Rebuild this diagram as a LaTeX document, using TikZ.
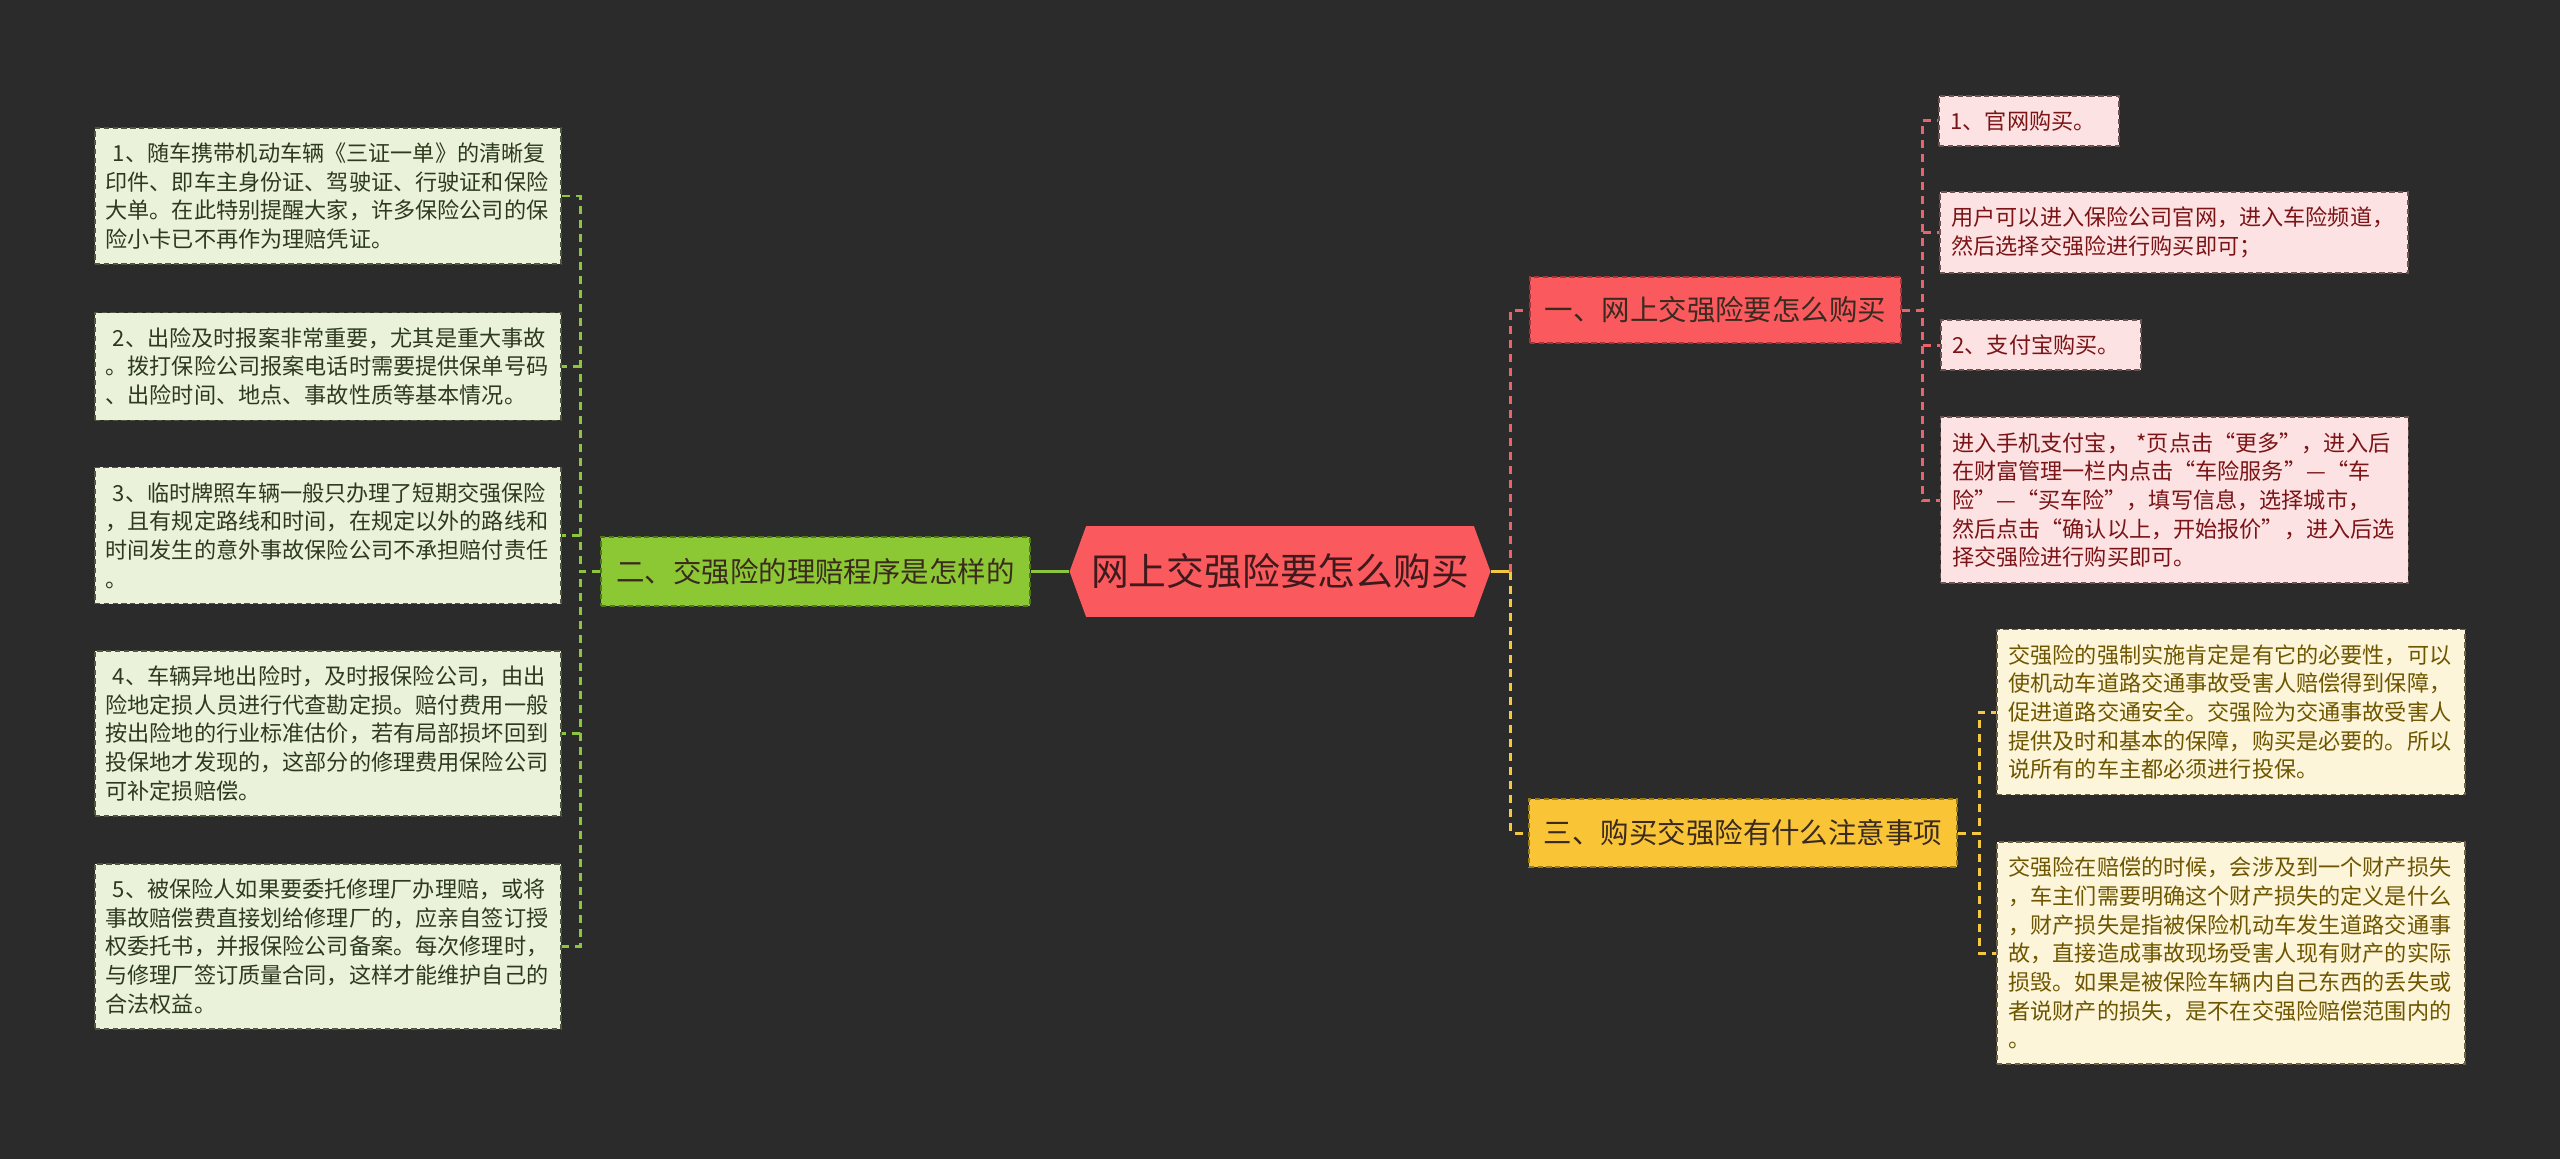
\documentclass[tikz,border=0pt]{standalone}
\usepackage{fontspec}
\setmainfont{Noto Sans CJK SC}
\usepackage{xcolor}
\usepackage{tikz}
\usetikzlibrary{shapes.symbols}

\definecolor{bgdark}{HTML}{2B2B2B}
\definecolor{gleaffill}{HTML}{EAF3DA}
\definecolor{gleafline}{HTML}{4E5840}
\definecolor{gleaftext}{HTML}{2E3A1E}
\definecolor{gtopic}{HTML}{8CC834}
\definecolor{gtopicline}{HTML}{4F7A18}
\definecolor{gwire}{HTML}{8CC63E}
\definecolor{rtopic}{HTML}{FA5A5E}
\definecolor{rtopicline}{HTML}{A8343A}
\definecolor{rwire}{HTML}{E8646A}
\definecolor{pleaffill}{HTML}{FDE2E3}
\definecolor{pleafline}{HTML}{6E5252}
\definecolor{pleaftext}{HTML}{7B1416}
\definecolor{ytopic}{HTML}{F9C537}
\definecolor{ytopicline}{HTML}{9C7A14}
\definecolor{ywire}{HTML}{F5C842}
\definecolor{yleaffill}{HTML}{FDF5D9}
\definecolor{yleafline}{HTML}{6E6244}
\definecolor{yleaftext}{HTML}{6E5600}
\definecolor{topictext}{HTML}{3A2A20}
\definecolor{hubtext}{HTML}{3E1A1C}

\begin{document}
\begin{tikzpicture}[
    x=0.02cm,y=-0.02cm,
    leaf/.style={rectangle,align=left,text width=8.9cm,inner xsep=0.21cm,inner ysep=0.3cm,
        line width=1pt,dash pattern=on 3pt off 2pt,font=\fontsize{12.6pt}{16.3pt}\selectfont},
    gleaf/.style={leaf,fill=gleaffill,draw=gleafline,text=gleaftext},
    pleaf/.style={leaf,inner xsep=0.23cm,fill=pleaffill,draw=pleafline,text=pleaftext},
    yleaf/.style={leaf,inner xsep=0.23cm,fill=yleaffill,draw=yleafline,text=yleaftext},
    headbox/.style={rectangle,align=center,inner xsep=0.3cm,line width=1pt,
        dash pattern=on 3pt off 2pt,text=topictext,font=\fontsize{16.2pt}{20pt}\selectfont},
    hub/.style={signal,signal to=west and east,signal pointer angle=140,fill=rtopic,
        text=hubtext,minimum width=8.4cm,minimum height=1.82cm,inner xsep=0.1cm,
        font=\fontsize{21.5pt}{26pt}\selectfont},
    wire/.style={line width=0.06cm,dash pattern=on 0.16cm off 0.12cm},
    gline/.style={wire,draw=gwire},
    rline/.style={wire,draw=rwire},
    yline/.style={wire,draw=ywire}
]
\fill[bgdark] (0,0) rectangle (2560,1159);

% centre
\node[hub] (C) at (1280,571.5) {网上交强险要怎么购买};

% left branch
\node[headbox,fill=gtopic,draw=gtopicline,minimum width=8.58cm,minimum height=1.38cm] (N2) at (815.5,571.5) {二、交强险的理赔程序是怎样的};
\node[gleaf] (L1) at (328,196) {~1、随车携带机动车辆《三证一单》的清晰复\\印件、即车主身份证、驾驶证、行驶证和保险\\大单。在此特别提醒大家，许多保险公司的保\\险小卡已不再作为理赔凭证。};
\node[gleaf] (L2) at (328,366.5) {~2、出险及时报案非常重要，尤其是重大事故\\。拨打保险公司报案电话时需要提供保单号码\\、出险时间、地点、事故性质等基本情况。};
\node[gleaf] (L3) at (328,535.5) {~3、临时牌照车辆一般只办理了短期交强保险\\，且有规定路线和时间，在规定以外的路线和\\时间发生的意外事故保险公司不承担赔付责任\\。};
\node[gleaf] (L4) at (328,733.5) {~4、车辆异地出险时，及时报保险公司，由出\\险地定损人员进行代查勘定损。赔付费用一般\\按出险地的行业标准估价，若有局部损坏回到\\投保地才发现的，这部分的修理费用保险公司\\可补定损赔偿。};
\node[gleaf] (L5) at (328,946.5) {~5、被保险人如果要委托修理厂办理赔，或将\\事故赔偿费直接划给修理厂的，应亲自签订授\\权委托书，并报保险公司备案。每次修理时，\\与修理厂签订质量合同，这样才能维护自己的\\合法权益。};

% right upper branch
\node[headbox,fill=rtopic,draw=rtopicline,minimum width=7.42cm,minimum height=1.32cm] (N1) at (1715.5,310) {一、网上交强险要怎么购买};
\node[pleaf,text width=3.14cm] (P1) at (2029,121) {1、官网购买。};
\node[pleaf] (P2) at (2174,232.5) {用户可以进入保险公司官网，进入车险频道，\\然后选择交强险进行购买即可；};
\node[pleaf,text width=3.54cm] (P3) at (2041,345) {2、支付宝购买。};
\node[pleaf] (P4) at (2174.5,500) {进入手机支付宝， *页点击“更多”，进入后\\在财富管理一栏内点击“车险服务”—“车\\险”—“买车险”，填写信息，选择城市，\\然后点击“确认以上，开始报价”，进入后选\\择交强险进行购买即可。};

% right lower branch
\node[headbox,fill=ytopic,draw=ytopicline,minimum width=8.56cm,minimum height=1.36cm] (N3) at (1743,833) {三、购买交强险有什么注意事项};
\node[yleaf] (Y1) at (2231,712) {交强险的强制实施肯定是有它的必要性，可以\\使机动车道路交通事故受害人赔偿得到保障，\\促进道路交通安全。交强险为交通事故受害人\\提供及时和基本的保障，购买是必要的。所以\\说所有的车主都必须进行投保。};
\node[yleaf] (Y2) at (2231,953) {交强险在赔偿的时候，会涉及到一个财产损失\\，车主们需要明确这个财产损失的定义是什么\\，财产损失是指被保险机动车发生道路交通事\\故，直接造成事故现场受害人现有财产的实际\\损毁。如果是被保险车辆内自己东西的丢失或\\者说财产的损失，是不在交强险赔偿范围内的\\。};

% connectors
\draw[draw=gwire,line width=0.06cm] (N2.east) -- (C.west);
\foreach \n in {L1,L2,L3,L4,L5}
    \draw[gline] (N2.west) -- ++(-20,0) |- (\n.east);
\draw[draw=ywire,line width=0.06cm] (C.east) -- ++(20,0) coordinate (hubjoint);
\draw[rline] (hubjoint) |- (N1.west);
\draw[yline] (hubjoint) |- (N3.west);
\foreach \n in {P1,P2,P3,P4}
    \draw[rline] (N1.east) -- ++(20,0) |- (\n.west);
\foreach \n in {Y1,Y2}
    \draw[yline] (N3.east) -- ++(21,0) |- (\n.west);
\end{tikzpicture}
\end{document}
